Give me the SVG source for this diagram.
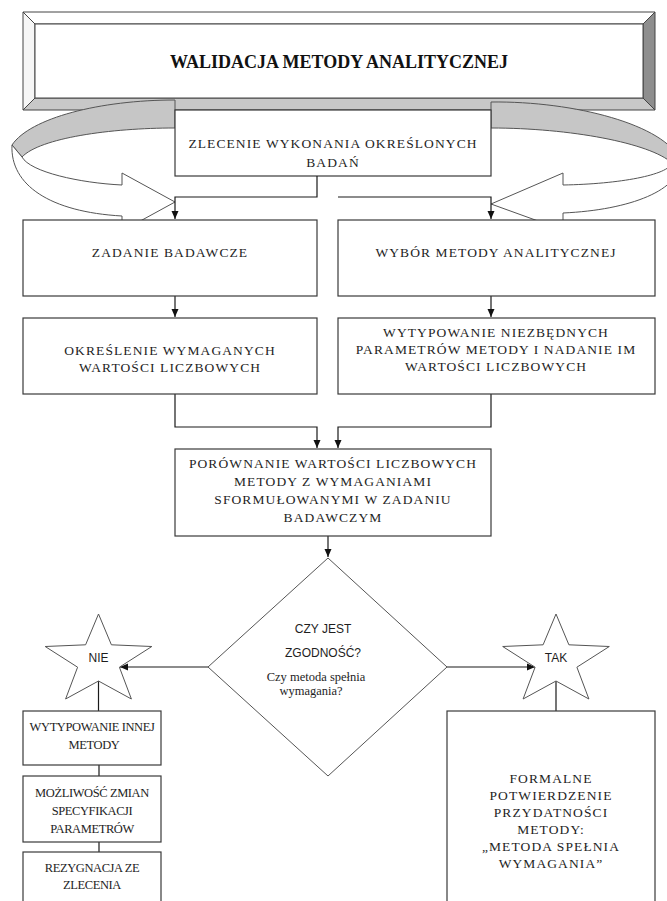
<svg xmlns="http://www.w3.org/2000/svg" width="667" height="901" viewBox="0 0 667 901">
  <defs>
    <style>
      .box { fill: #ffffff; stroke: #3a3a3a; stroke-width: 1.2; }
      .shape { fill: #ffffff; stroke: #555555; stroke-width: 1; }
      .band { fill: #c6c6c6; stroke: #555555; stroke-width: 1; }
      .conn { fill: none; stroke: #1a1a1a; stroke-width: 1.2; }
      .t { font-family: "Liberation Serif", "Times New Roman", serif; font-size: 13.5px; letter-spacing: 1.1px; fill: #1e1e1e; text-anchor: middle; }
      .ts { font-family: "Liberation Serif", "Times New Roman", serif; font-size: 12.5px; letter-spacing: -0.4px; fill: #1e1e1e; text-anchor: middle; }
      .title { font-family: "Liberation Serif", "Times New Roman", serif; font-size: 18px; font-weight: bold; fill: #111111; text-anchor: middle; }
      .sans { font-family: "Liberation Sans", Arial, sans-serif; font-size: 12px; fill: #1e1e1e; text-anchor: middle; }
      .q { font-family: "Liberation Serif", "Times New Roman", serif; font-size: 12.5px; fill: #1e1e1e; text-anchor: middle; }
    </style>
    <marker id="ah" viewBox="0 0 8 8" refX="8" refY="4" markerWidth="8" markerHeight="8" markerUnits="userSpaceOnUse" orient="auto">
      <path d="M0,0.5 L8,4 L0,7.5 z" fill="#111111"/>
    </marker>
  </defs>

  <rect width="667" height="901" fill="#ffffff"/>

  <!-- bevelled title panel -->
  <g id="title">
    <polygon points="23,12 655,12 643,24 35,24" fill="#ffffff" stroke="#444" stroke-width="1"/>
    <polygon points="23,12 35,24 35,98 23,110" fill="#f6f6f6" stroke="#444" stroke-width="1"/>
    <polygon points="655,12 655,110 643,98 643,24" fill="#8e8e8e" stroke="#444" stroke-width="1"/>
    <polygon points="23,110 655,110 643,98 35,98" fill="#c8c8c8" stroke="#444" stroke-width="1"/>
    <rect x="35" y="24" width="608" height="74" fill="#ffffff" stroke="#444" stroke-width="1"/>
    <text class="title" x="339" y="68">WALIDACJA METODY ANALITYCZNEJ</text>
  </g>

  <!-- circular return arrows around the order box -->
  <g id="loop-left">
    <path class="band" d="M175,100 C100,100 30,118 12,145 L22,157 C40,138 110,128 175,128 Z"/>
    <path class="shape" d="M12,145 C10,185 50,212 122,216 L122,231 L175,202 L122,173 L122,185 C80,183 30,172 22,157 Z"/>
  </g>
  <g id="loop-right">
    <path class="band" d="M491,102 C575,101 665,125 680,160 L672,163 C650,143 570,128 491,128 Z"/>
    <path class="shape" d="M680,160 C682,190 630,210 563,213 L563,230 L491,204 L563,173 L563,185 C620,184 668,175 672,163 Z"/>
  </g>

  <g id="order">
    <rect class="box" x="175" y="110" width="316" height="66"/>
    <text class="t" x="333" y="148">ZLECENIE WYKONANIA OKREŚLONYCH</text>
    <text class="t" x="333" y="167">BADAŃ</text>
  </g>

  <g id="connectors">
    <path class="conn" d="M317,176 V197 H175 V219" marker-end="url(#ah)"/>
    <path class="conn" d="M338,197 H491 V219" marker-end="url(#ah)"/>
    <path class="conn" d="M175,296 V317" marker-end="url(#ah)"/>
    <path class="conn" d="M491,296 V317" marker-end="url(#ah)"/>
    <path class="conn" d="M175,394 V427 H317 V448" marker-end="url(#ah)"/>
    <path class="conn" d="M491,394 V427 H338 V448" marker-end="url(#ah)"/>
    <path class="conn" d="M328,536 V557" marker-end="url(#ah)"/>
    <path class="conn" d="M208,667 H120" marker-end="url(#ah)"/>
    <path class="conn" d="M447,667 H535" marker-end="url(#ah)"/>
    <path class="conn" d="M98.5,681 V711"/>
    <path class="conn" d="M99,765 V776"/>
    <path class="conn" d="M99,842 V852"/>
    <path class="conn" d="M556,681 V711"/>
  </g>

  <g id="task">
    <rect class="box" x="23" y="220" width="294" height="76"/>
    <text class="t" x="170" y="257">ZADANIE BADAWCZE</text>
  </g>

  <g id="method-choice">
    <rect class="box" x="338" y="220" width="317" height="76"/>
    <text class="t" x="496" y="257">WYBÓR METODY ANALITYCZNEJ</text>
  </g>

  <g id="required-values">
    <rect class="box" x="23" y="318" width="294" height="76"/>
    <text class="t" x="170" y="355">OKREŚLENIE WYMAGANYCH</text>
    <text class="t" x="170" y="372">WARTOŚCI LICZBOWYCH</text>
  </g>

  <g id="method-parameters">
    <rect class="box" x="338" y="318" width="317" height="76"/>
    <text class="t" x="496" y="337">WYTYPOWANIE NIEZBĘDNYCH</text>
    <text class="t" x="496" y="354">PARAMETRÓW METODY  I NADANIE IM</text>
    <text class="t" x="496" y="371">WARTOŚCI LICZBOWYCH</text>
  </g>

  <g id="comparison">
    <rect class="box" x="175" y="449" width="316" height="87"/>
    <text class="t" x="333" y="468">PORÓWNANIE WARTOŚCI LICZBOWYCH</text>
    <text class="t" x="333" y="486">METODY  Z WYMAGANIAMI</text>
    <text class="t" x="333" y="504">SFORMUŁOWANYMI W ZADANIU</text>
    <text class="t" x="333" y="522">BADAWCZYM</text>
  </g>

  <g id="decision">
    <polygon class="shape" points="328,558 447,667 328,776 208,667"/>
    <text class="sans" x="323" y="633">CZY JEST</text>
    <text class="sans" x="323" y="657">ZGODNOŚĆ?</text>
    <text class="q" x="316" y="681">Czy metoda spełnia</text>
    <text class="q" x="311" y="695">wymagania?</text>
  </g>

  <g id="no">
    <polygon class="shape" points="98.5,614 111.4,644.8 151.8,646.5 119.4,667.2 131.4,699 98.5,681 65.6,699 77.6,667.2 45.2,646.5 85.6,644.8"/>
    <text class="sans" x="98.5" y="662">NIE</text>
  </g>

  <g id="yes">
    <polygon class="shape" points="556,614 568.9,644.8 609.3,646.5 576.9,667.2 588.9,699 556,681 523.1,699 535.1,667.2 502.7,646.5 543.1,644.8"/>
    <text class="sans" x="556" y="662">TAK</text>
  </g>

  <g id="other-method">
    <rect class="box" x="23" y="711" width="138" height="54"/>
    <text class="ts" x="92" y="731">WYTYPOWANIE INNEJ</text>
    <text class="ts" x="94" y="749">METODY</text>
  </g>

  <g id="change-specification">
    <rect class="box" x="23" y="776" width="138" height="66"/>
    <text class="ts" x="92" y="797">MOŻLIWOŚĆ ZMIAN</text>
    <text class="ts" x="92" y="815">SPECYFIKACJI</text>
    <text class="ts" x="92" y="833">PARAMETRÓW</text>
  </g>

  <g id="withdraw">
    <rect class="box" x="23" y="852" width="138" height="60"/>
    <text class="ts" x="92" y="872">REZYGNACJA ZE</text>
    <text class="ts" x="92" y="889">ZLECENIA</text>
  </g>

  <g id="confirmation">
    <rect class="box" x="447" y="711" width="208" height="200"/>
    <text class="t" x="551" y="783">FORMALNE</text>
    <text class="t" x="551" y="800">POTWIERDZENIE</text>
    <text class="t" x="551" y="817">PRZYDATNOŚCI</text>
    <text class="t" x="551" y="834">METODY:</text>
    <text class="t" x="551" y="851">„METODA SPEŁNIA</text>
    <text class="t" x="551" y="868">WYMAGANIA”</text>
  </g>
</svg>
